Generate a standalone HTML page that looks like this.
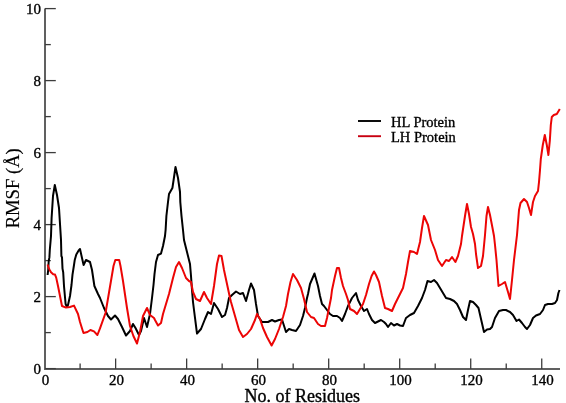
<!DOCTYPE html>
<html><head><meta charset="utf-8"><style>
html,body{margin:0;padding:0;background:#fff;width:566px;height:403px;overflow:hidden}
svg{display:block;will-change:transform}
text{font-family:"Liberation Serif",serif;fill:#000;stroke:#000;stroke-width:0.35px}
</style></head><body>
<svg width="566" height="403" viewBox="0 0 566 403">
<g stroke="#606060" stroke-width="2" fill="none">
<polyline points="45,8.5 45,369 560,369"/>
</g>
<g stroke="#3c3c3c" stroke-width="1.3" fill="none">
<line x1="115.62" y1="369" x2="115.62" y2="358.5"/><line x1="186.64" y1="369" x2="186.64" y2="358.5"/><line x1="257.66" y1="369" x2="257.66" y2="358.5"/><line x1="328.68" y1="369" x2="328.68" y2="358.5"/><line x1="399.70" y1="369" x2="399.70" y2="358.5"/><line x1="470.72" y1="369" x2="470.72" y2="358.5"/><line x1="541.74" y1="369" x2="541.74" y2="358.5"/><line x1="80.11" y1="369" x2="80.11" y2="363.5"/><line x1="151.13" y1="369" x2="151.13" y2="363.5"/><line x1="222.15" y1="369" x2="222.15" y2="363.5"/><line x1="293.17" y1="369" x2="293.17" y2="363.5"/><line x1="364.19" y1="369" x2="364.19" y2="363.5"/><line x1="435.21" y1="369" x2="435.21" y2="363.5"/><line x1="506.23" y1="369" x2="506.23" y2="363.5"/><line x1="45" y1="368.6" x2="55.8" y2="368.6"/><line x1="45" y1="296.6" x2="55.8" y2="296.6"/><line x1="45" y1="224.6" x2="55.8" y2="224.6"/><line x1="45" y1="152.6" x2="55.8" y2="152.6"/><line x1="45" y1="80.6" x2="55.8" y2="80.6"/><line x1="45" y1="8.6" x2="55.8" y2="8.6"/><line x1="45" y1="332.6" x2="50.8" y2="332.6"/><line x1="45" y1="260.6" x2="50.8" y2="260.6"/><line x1="45" y1="188.6" x2="50.8" y2="188.6"/><line x1="45" y1="116.6" x2="50.8" y2="116.6"/><line x1="45" y1="44.6" x2="50.8" y2="44.6"/>
</g>
<g font-size="15">
<text x="45.40" y="384.6" text-anchor="middle">0</text><text x="116.42" y="384.6" text-anchor="middle">20</text><text x="187.44" y="384.6" text-anchor="middle">40</text><text x="258.46" y="384.6" text-anchor="middle">60</text><text x="329.48" y="384.6" text-anchor="middle">80</text><text x="400.50" y="384.6" text-anchor="middle">100</text><text x="471.52" y="384.6" text-anchor="middle">120</text><text x="542.54" y="384.6" text-anchor="middle">140</text><text x="41" y="374.1" text-anchor="end">0</text><text x="41" y="302.1" text-anchor="end">2</text><text x="41" y="230.1" text-anchor="end">4</text><text x="41" y="158.1" text-anchor="end">6</text><text x="41" y="86.1" text-anchor="end">8</text><text x="41" y="14.1" text-anchor="end">10</text>
</g>
<text x="302.3" y="402" font-size="18" text-anchor="middle">No. of Residues</text>
<text transform="translate(18.6,188.3) rotate(-90)" font-size="18.6" style="stroke-width:0.15px" text-anchor="middle">RMSF (Å)</text>
<polyline points="47.6,275 48.2,270 48.7,261 49.4,257.4 49.8,250 51,236 51.6,218 53,196 54.8,185 57,195 59,208 61,240 61.4,256 62,257.4 62.5,268.6 63.2,272.3 64,286 65.6,304 67,307 68,305 70,296 71.5,285 72.5,274.6 74,265 74.8,259.7 76.3,254.5 78.5,250.7 80,249 82,258 83.6,265 86,260 90,262 92,270 94.4,286 98,294 100,298 104,308 108,316 111,319.5 115,315.5 118,319 122,327 126,335.5 130,331 133,324 135.5,328 139,335 141,331 144,318 147,327 150,314 152,298 153.5,285 154.5,274 156,262 158,255 161,253.6 163,246 165,236 165.6,230 166.4,216 168,202 169,194 172.4,188 173.6,180 175.5,167 178,178 180,192 180.3,202 181.5,216 183,230 184,240 187,252 190,264 191,276 192,290 193,302 194,310 197,333.5 201,329 205,319 208,312 211,314 214,303 218,309 222,317 225,315 227,308 229,298 232,295 236,291.5 240,294 243,293 246,301 249,290 251,283.5 254,290 256,304 258,316 262,322 268,322 272,320 275,321.5 279,320 282,319.5 286,332 289,329 292,330 296,331 300,325 303,316 305,308 307,298 308,294 310,284 314.5,273.5 318,286 320,296 322,304 324,306 327,310 330,314 333,316 337,316 340,318 342,321 345,314 348,306 352,298 356,293 358,300 361,306 364,311 367,309 369,314 372,320 375,323 378,321.5 381,320 384,322 386,324 388,327 391,323 394,325.5 397,324 400,325.5 403,326 406,318 410,315 414,313 418,306 422,298 425,290 427.5,281 431,282 434,280 437,283 440,288 443,293 446,298 450,299 454,301 457,304 460,310 463,317 466,320 468,310 470,301 473,302 476,305 478.5,308 481,319 484,332 487,329.5 490,329 492,327 495,318 499,311 503,310 506,310 510,312 513,315 516.5,321 519,319.5 522,323 525,327 527,329 530,325 533,318 536,315.5 540,314 543,310 545,305 548,304 552,304 555,303 557,300 558.4,293 559.5,290" fill="none" stroke="#000" stroke-width="2" stroke-linejoin="round"/>
<polyline points="47.6,264.5 48.7,268 49.4,269.4 51,272.3 53.2,274.2 55,274.6 56.2,277.6 58,286 62,306 66,307.6 70,307 74,305.6 78,314 80,322 82.5,330 83.5,333 87.4,332 90.4,330 94,331.4 97.4,335 100,328.4 105.5,313 108,298.5 113.5,266 115.3,260 119.2,260 120.5,266 123,281 127,308 130,326 133.4,336 137,343.5 140,332 143,316 147,308 150,315 154,318 155,320 158,325.5 161,323 163,314 166,304 169,294 173,278 176,267 179,262 182,268 186,278 189,281 191,282 193,292 196,299 200,301 204,292 207,298 211,304 214,286 217,264 219,255.5 221.5,256 224,270 227,284 230,298 231,302 235,316 239,330 243,337 247,334 251,329 255,320 257,314 260,319 263,328 267,337 271.6,345.5 275,339 279,329 283,317 286,306 288,294 290.5,282 293,274 297,280 301,288 304,299 307,312 311,317 314,318 318,324 321,326 325,326 327,318 329,308 331,298 332,290 335,276 337,268 339,268 341,278 343,286 346,294 348,300 350,309 354,311 357,314 360,309 363,304 366,295 369,284 371.6,276 374,271.5 376,275 379,282 382,296 385,308 388,309 392,311 395,304 399,296 403,288 406,274 408,262 410,251 414,252 417,254 420,242 422,228 424,216 428,225 431,240 435,250 438,260 442,266 446,260 449,261 452,257 455.4,262 458,256 461,244 462,236 465,216 467,204 469,214 471,227 473,234 475,244 476,254 478,268 481,266 483,256 485,235 486.5,216 488,207 490,215 492.5,228 494,236 495,245 496.5,260 498.5,286 502,284 505,282 508,292 510,299 512,280 514,260 517,235 519,210 520.5,203 524,199 527,202 529,208 531,215 533,202 535,196 538,191 539,182 540,170 540.8,159 542.8,145 544.8,135 546.8,145 548.4,155 549.8,141 550.8,125 551.8,117 553.8,115 556.8,114 559.8,109" fill="none" stroke="#ec0505" stroke-width="2" stroke-linejoin="round"/>
<line x1="358" y1="121" x2="381" y2="121" stroke="#000" stroke-width="1.9"/>
<line x1="358" y1="136.2" x2="381" y2="136.2" stroke="#c80010" stroke-width="1.9"/>
<text x="391" y="127" font-size="14.5">HL Protein</text>
<text x="391" y="142.3" font-size="14.5">LH Protein</text>
</svg>
</body></html>
